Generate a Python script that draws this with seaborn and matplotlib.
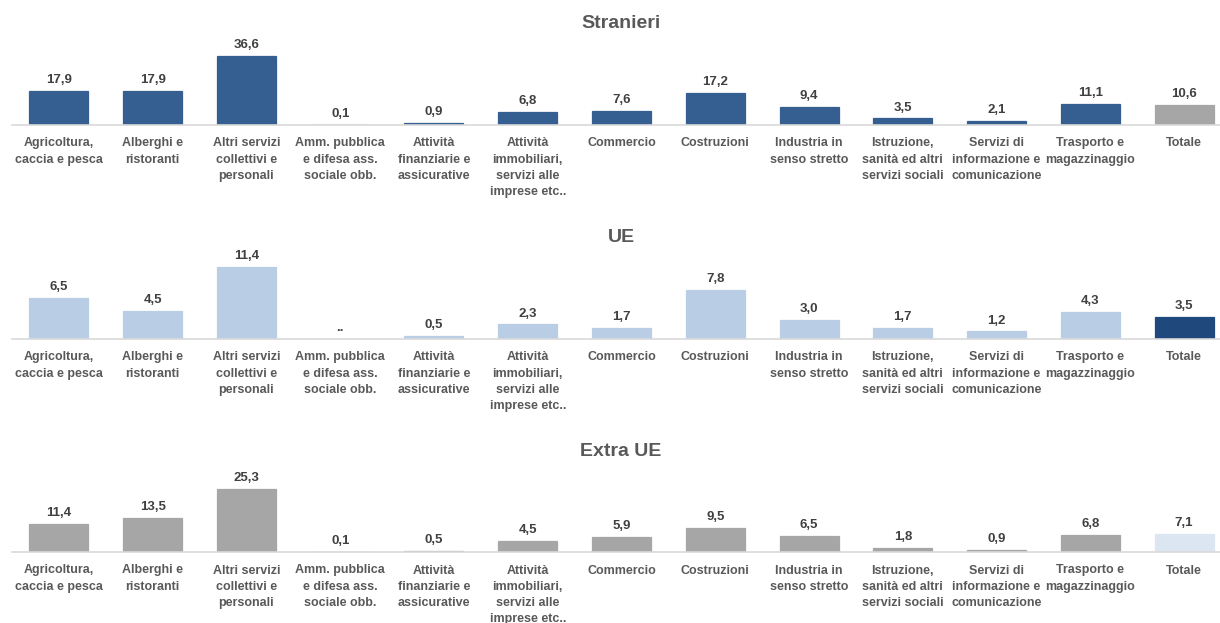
import numpy as np
import pandas as pd
import matplotlib.pyplot as plt
import seaborn as sns

plt.switch_backend("Agg")

# --- dati ---
categorie = [
    "Agricoltura,\ncaccia e pesca",
    "Alberghi e\nristoranti",
    "Altri servizi\ncollettivi e\npersonali",
    "Amm. pubblica\ne difesa ass.\nsociale obb.",
    "Attività\nfinanziarie e\nassicurative",
    "Attività\nimmobiliari,\nservizi alle\nimprese etc..",
    "Commercio",
    "Costruzioni",
    "Industria in\nsenso stretto",
    "Istruzione,\nsanità ed altri\nservizi sociali",
    "Servizi di\ninformazione e\ncomunicazione",
    "Trasporto e\nmagazzinaggio",
    "Totale",
]
stranieri = [17.9, 17.9, 36.6, 0.1, 0.9, 6.8, 7.6, 17.2, 9.4, 3.5, 2.1, 11.1, 10.6]
ue = [6.5, 4.5, 11.4, np.nan, 0.5, 2.3, 1.7, 7.8, 3.0, 1.7, 1.2, 4.3, 3.5]
extra_ue = [11.4, 13.5, 25.3, 0.1, 0.5, 4.5, 5.9, 9.5, 6.5, 1.8, 0.9, 6.8, 7.1]

pannelli = [
    # titolo, valori, colore barre, colore totale, baseline px, ymax
    ("Stranieri", stranieri, "#365F91", "#A6A6A6", 125, 47.7),
    ("UE", ue, "#B9CDE5", "#1F497D", 339, 14.25),
    ("Extra UE", extra_ue, "#A6A6A6", "#DCE6F2", 552, 36.1),
]

W, H = 1220, 623
fig = plt.figure(figsize=(W / 100, H / 100), dpi=100)
sns.set_style("white")
plt.rcParams["font.family"] = ["Liberation Sans Narrow", "Liberation Sans", "DejaVu Sans"]

for titolo, valori, col, col_tot, base, ymax in pannelli:
    df = pd.DataFrame({"cat": categorie, "val": valori})
    df["draw"] = df["val"].fillna(0)
    pal = {c: (col_tot if c == "Totale" else col) for c in categorie}

    ax = fig.add_axes([12 / W, 1 - base / H, 1219 / W, 90 / H])
    sns.barplot(data=df, x="cat", y="draw", hue="cat", palette=pal, order=categorie,
                width=0.63, legend=False, saturation=1, ax=ax)
    # bordo sottile per rendere visibili le barre minime
    for p in ax.patches:
        if p.get_height() > 0:
            p.set_edgecolor(p.get_facecolor())
            p.set_linewidth(0.9)
    ax.set_ylim(0, ymax)
    ax.set_xlim(-0.5, len(categorie) - 0.5)
    ax.set_xlabel("")
    ax.set_ylabel("")
    ax.set_yticks([])
    for s in ["top", "right", "left"]:
        ax.spines[s].set_visible(False)
    ax.spines["bottom"].set_color("#D9D9D9")
    ax.spines["bottom"].set_linewidth(1.2)
    ax.tick_params(axis="x", length=0, pad=9, labelsize=9, colors="#595959")
    for lab in ax.get_xticklabels():
        lab.set_fontweight("bold")
        lab.set_verticalalignment("top")
        lab.set_linespacing(1.45)

    for i, v in enumerate(valori):
        testo = ".." if pd.isna(v) else f"{v:.1f}".replace(".", ",")
        ax.annotate(testo, (i, 0 if pd.isna(v) else v), xytext=(0, 3.5),
                    textcoords="offset points", ha="center", va="bottom",
                    fontsize=9.5, fontweight="bold", color="#404040")

    fig.text(621 / W, 1 - (base - 101) / H, titolo, ha="center", va="center",
             fontsize=14, fontweight="bold", color="#595959")

fig.savefig("out.png", dpi=100)
